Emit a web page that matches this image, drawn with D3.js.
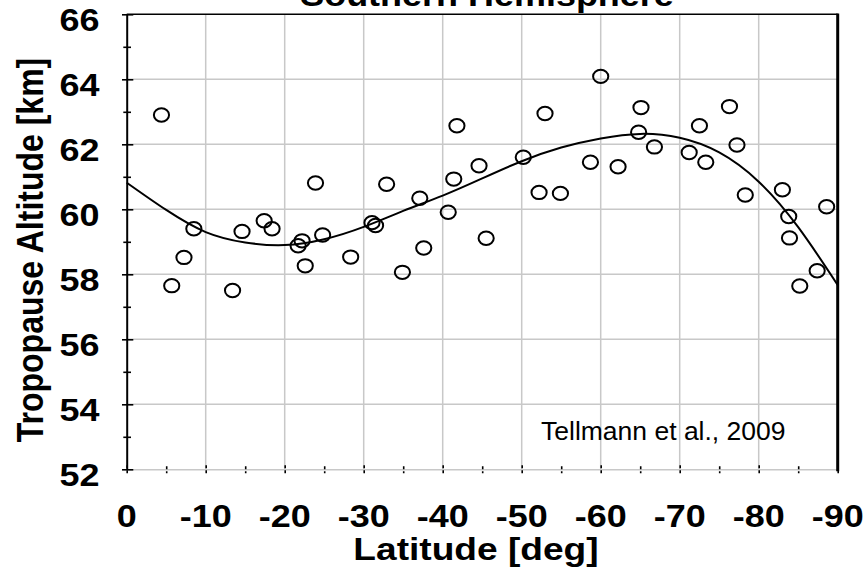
<!DOCTYPE html>
<html><head><meta charset="utf-8">
<script src="https://cdn.jsdelivr.net/npm/d3@7"></script>
<style>body{margin:0;background:#fff} svg{display:block}</style>
</head><body><svg id="c" width="867" height="576"></svg>
<script>
const title = "Southern Hemisphere";
const xLabel = "Latitude [deg]";
const yLabel = "Tropopause Altitude [km]";
const note = "Tellmann et al., 2009";
const xTickValues = [0,-10,-20,-30,-40,-50,-60,-70,-80,-90];
const xMinorTicks = [0,-5,-10,-15,-20,-25,-30,-35,-40,-45,-50,-55,-60,-65,-70,-75,-80,-85,-90];
const yTickValues = [52,54,56,58,60,62,64,66];
const yMinorTicks = [52,53,54,55,56,57,58,59,60,61,62,63,64,65,66];

const obsLat = [-4.4,-5.7,-7.25,-8.5,-13.4,-14.6,-17.4,-18.4,-21.7,-22.2,-22.6,-23.9,-24.8,-28.35,-31.05,-31.5,-32.9,-34.9,-37.1,-37.6,-40.7,-41.4,-41.8,-44.6,-45.5,-50.2,-52.2,-52.95,-54.9,-60.0,-58.7,-62.2,-65.1,-64.8,-66.8,-71.2,-72.5,-73.3,-76.3,-77.25,-78.3,-83.0,-83.8,-83.9,-88.6,-87.4,-85.2];
const obsAlt = [62.90,57.65,58.52,59.40,57.50,59.32,59.65,59.40,58.88,59.03,58.26,60.81,59.21,58.53,59.59,59.50,60.77,58.06,60.34,58.81,59.91,60.93,62.57,61.34,59.11,61.60,60.52,62.95,60.49,64.09,61.45,61.31,63.13,62.37,61.92,61.75,62.57,61.45,63.16,61.98,60.44,60.60,59.78,59.12,60.08,58.11,57.64];

const fitLat = [0,-5,-10,-15,-20,-25,-30,-35,-40,-45,-50,-55,-60,-65,-70,-75,-80,-85,-90];
const fitAlt = [60.82,59.98,59.30,58.98,58.90,59.08,59.46,59.95,60.42,60.95,61.48,61.90,62.18,62.32,62.20,61.75,60.85,59.45,57.67];

const m = {left:126.7, right:837.7, top:14.3, bottom:469.3};
const SX = 1.16;
const FONT = "'Liberation Sans', Arial, Helvetica, sans-serif";
const x = d3.scaleLinear().domain([0,-90]).range([m.left,m.right]);
const y = d3.scaleLinear().domain([52,66]).range([m.bottom,m.top]);
const svg = d3.select('#c');
const grid = '#c8c8c8';

// grid lines
svg.append('g').selectAll('line').data(xTickValues.filter(d=>d!==0 && d!==-90)).join('line')
  .attr('x1',d=>x(d)).attr('x2',d=>x(d)).attr('y1',m.top).attr('y2',m.bottom)
  .attr('stroke',grid).attr('stroke-width',1.5);
svg.append('g').selectAll('line').data(yTickValues.filter(d=>d!==66 && d!==52)).join('line')
  .attr('x1',m.left).attr('x2',m.right).attr('y1',d=>y(d)).attr('y2',d=>y(d))
  .attr('stroke',grid).attr('stroke-width',1.5);

// bottom axis (grey line, dotted black ticks)
const gx = svg.append('g').attr('transform',`translate(0,${m.bottom})`)
  .call(d3.axisBottom(x).tickValues(xMinorTicks).tickSize(5).tickSizeOuter(0).tickFormat(''));
gx.select('.domain').attr('stroke',grid).attr('stroke-width',1.5);
gx.selectAll('.tick line').attr('stroke','#000').attr('stroke-width',1.6)
  .attr('y1',d=>d%10===0?-4:-3).attr('y2',d=>d%10===0?6:4).attr('stroke-dasharray','3,2');

// left axis
const gy = svg.append('g').attr('transform',`translate(${m.left},0)`)
  .call(d3.axisLeft(y).tickValues(yMinorTicks).tickSize(-6).tickSizeOuter(0).tickFormat(''));
gy.select('.domain').attr('stroke','#000').attr('stroke-width',2);
gy.selectAll('.tick line').attr('stroke','#000').attr('stroke-width',1.6)
  .attr('x1',d=>d%2===0?-4.7:-3.4).attr('x2',d=>d%2===0?6.6:4.3);

// top and right frame
svg.append('line').attr('x1',m.left).attr('x2',m.right).attr('y1',m.top).attr('y2',m.top)
  .attr('stroke','#000').attr('stroke-width',1.6);
svg.append('line').attr('x1',m.right).attr('x2',m.right).attr('y1',m.top-0.8).attr('y2',m.bottom+2)
  .attr('stroke','#000').attr('stroke-width',3);

// fit curve
const pts = fitLat.map((d,i)=>[d,fitAlt[i]]);
svg.append('path').datum(pts)
  .attr('d',d3.line().x(d=>x(d[0])).y(d=>y(d[1])).curve(d3.curveNatural))
  .attr('fill','none').attr('stroke','#000').attr('stroke-width',2);

// observations
const obs = obsLat.map((d,i)=>[d,obsAlt[i]]);
svg.append('g').selectAll('ellipse').data(obs).join('ellipse')
  .attr('cx',d=>x(d[0])).attr('cy',d=>y(d[1])).attr('rx',7.6).attr('ry',6.7)
  .attr('fill','none').attr('stroke','#000').attr('stroke-width',2);

// tick labels
svg.append('g').selectAll('text').data(yTickValues).join('text')
  .attr('transform',d=>`translate(99.5,${y(d)+17}) scale(${SX},1)`)
  .attr('text-anchor','end').attr('font-family',FONT).attr('font-weight','bold').attr('font-size',31)
  .text(d=>d);
svg.append('g').selectAll('text').data(xTickValues).join('text')
  .attr('transform',d=>`translate(${x(d)},527) scale(${SX},1)`)
  .attr('text-anchor','middle').attr('font-family',FONT).attr('font-weight','bold').attr('font-size',31)
  .text(d=>d);

// titles
svg.append('text').attr('transform',`translate(487,6) scale(${SX},1)`)
  .attr('text-anchor','middle').attr('font-family',FONT).attr('font-weight','bold').attr('font-size',31)
  .text(title);
svg.append('text').attr('transform',`translate(476,560) scale(${SX},1)`)
  .attr('text-anchor','middle').attr('font-family',FONT).attr('font-weight','bold').attr('font-size',32)
  .text(xLabel);
svg.append('text').attr('transform',`translate(43,250) scale(${SX},1) rotate(-90)`)
  .attr('text-anchor','middle').attr('font-family',FONT).attr('font-weight','bold').attr('font-size',32)
  .text(yLabel);
svg.append('text').attr('x',541).attr('y',440)
  .attr('font-family',FONT).attr('font-size',26.5).attr('fill','#000')
  .text(note);
</script></body></html>
